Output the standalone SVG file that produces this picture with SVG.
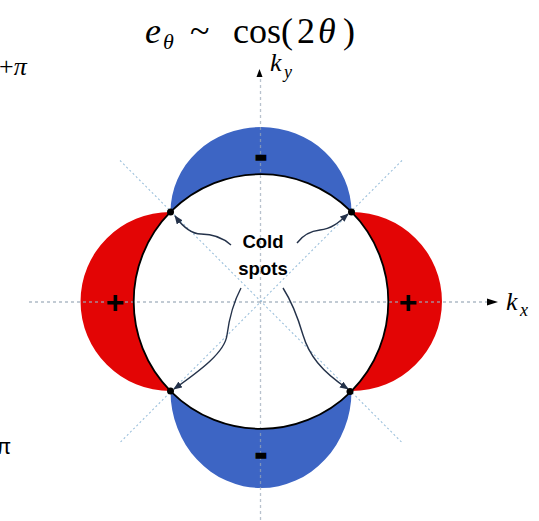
<svg xmlns="http://www.w3.org/2000/svg" width="539" height="521" viewBox="0 0 539 521">
<style>
.axis{stroke:#9aa8b8;stroke-width:1.3;stroke-dasharray:3 3;fill:none}
.diag{stroke:#9cc0dc;stroke-width:1.1;stroke-dasharray:2 2.5;fill:none}
.blue{fill:#3d65c4}
.red{fill:#e30505}
.ptr{fill:none;stroke:#24324a;stroke-width:1.4;marker-end:url(#ah)}
.math{font-family:"Liberation Serif","DejaVu Serif",serif;fill:#000}
.lbl{font-family:"Liberation Sans",Arial,sans-serif;font-weight:bold;fill:#000}
.sign{stroke:#000;stroke-width:1.6}
</style>
<defs>
<marker id="ah" viewBox="0 0 10 8" refX="9" refY="4" markerWidth="9" markerHeight="7" markerUnits="userSpaceOnUse" orient="auto">
<path d="M0,0 L10,4 L0,8 Z" fill="#24324a"/>
</marker>
</defs>

<g id="diagonals">
<line class="diag" x1="120" y1="160.5" x2="402" y2="442.5"/>
<line class="diag" x1="402" y1="160.5" x2="120" y2="442.5"/>
</g>

<g id="lobe-top"><path class="blue" d="M170.5,212 A90.5,85 0 0 1 351.5,212 A127.3,127.3 0 0 0 170.5,212 Z"/></g>
<g id="lobe-bottom"><path class="blue" d="M170.5,391 A90.5,97 0 0 0 351.5,391 A127.3,127.3 0 0 1 170.5,391 Z"/></g>
<g id="lobe-left"><path class="red" d="M170.5,212 A90,89.5 0 0 0 170.5,391 A127.3,127.3 0 0 1 170.5,212 Z"/></g>
<g id="lobe-right"><path class="red" d="M351.5,212 A90.5,89.5 0 0 1 351.5,391 A127.3,127.3 0 0 0 351.5,212 Z"/></g>

<g id="axes">
<line class="axis" x1="29" y1="302" x2="487" y2="302" stroke-opacity="0.8"/>
<line class="axis" x1="260.5" y1="79" x2="260.5" y2="521" stroke-opacity="0.7"/>
<path d="M487,298.5 L498,302 L487,305.5 Z" fill="#000"/>
<path d="M256.5,77 L259.5,69 L262.5,77 Z" fill="#000"/>
</g>

<g id="fermi-circle"><circle cx="261" cy="301.5" r="127.3" fill="none" stroke="#000" stroke-width="1.8"/></g>

<g id="connectors">
<path class="ptr" d="M231,245 C221,236 211,234 201,234 C191,234 183,227 175,216"/>
<path class="ptr" d="M297,243 C303,235 310,231 320,230 C332,229 339,222 348,214"/>
<path class="ptr" d="M241,288 C232,305 229,320 227,335 C225,352 201,370 174,389"/>
<path class="ptr" d="M283,288 C292,302 298,318 303,335 C309,355 321,371 348,389"/>
</g>

<g id="cold-spots">
<circle cx="170.5" cy="212" r="3.5" fill="#000"/>
<circle cx="351.5" cy="212" r="3.5" fill="#000"/>
<circle cx="170.5" cy="391" r="3.5" fill="#000"/>
<circle cx="350" cy="391.5" r="3.5" fill="#000"/>
</g>

<g id="labels">
<text class="lbl" x="263" y="248" font-size="18.5" text-anchor="middle">Cold</text>
<text class="lbl" x="263" y="275" font-size="18.5" text-anchor="middle">spots</text>
<text class="lbl sign" x="261" y="167" font-size="36" text-anchor="middle">-</text>
<text class="lbl sign" x="261" y="465" font-size="36" text-anchor="middle">-</text>
<text class="lbl" x="115" y="313" font-size="32" text-anchor="middle">+</text>
<text class="lbl" x="408" y="313" font-size="32" text-anchor="middle">+</text>
</g>

<g id="title">
<text class="math" font-size="36"><tspan x="145" y="43" font-style="italic">e</tspan><tspan x="163" y="49" font-size="22" font-style="italic">θ</tspan><tspan x="190" y="43">~</tspan><tspan x="233" y="43">cos</tspan><tspan x="281" y="43">(</tspan><tspan x="297" y="43">2</tspan><tspan x="318" y="43" font-style="italic">θ</tspan><tspan x="343" y="43">)</tspan></text>
</g>
<g id="ky-label"><text class="math" font-size="26" font-style="italic"><tspan x="270" y="71">k</tspan><tspan x="284" y="78" font-size="18">y</tspan></text></g>
<g id="kx-label"><text class="math" font-size="26" font-style="italic"><tspan x="506" y="310">k</tspan><tspan x="520" y="316" font-size="18">x</tspan></text></g>
<g id="pi-labels">
<text class="math" font-size="26" x="-1" y="75">+<tspan font-style="italic">π</tspan></text>
<text font-family="Liberation Sans,Arial,sans-serif" font-size="22" x="-4" y="454" fill="#000">π</text>
</g>
</svg>
